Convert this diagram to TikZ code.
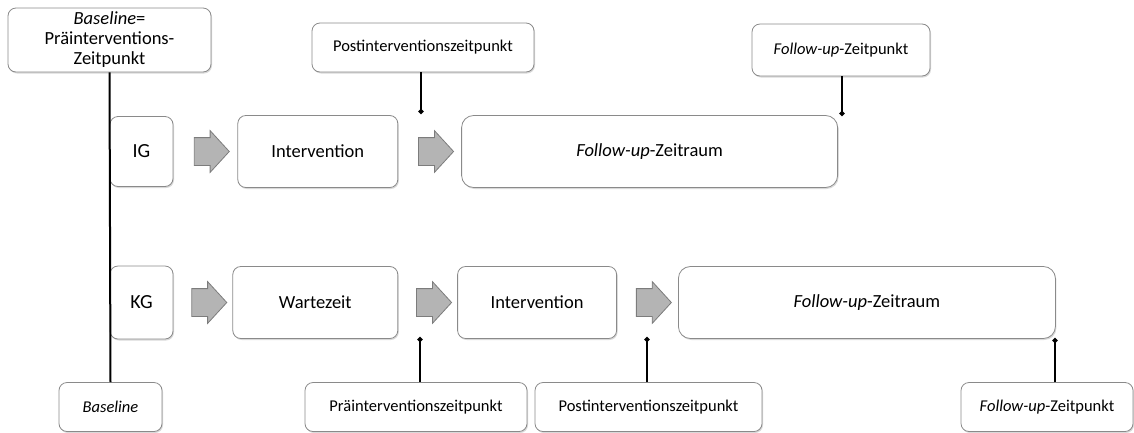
\documentclass[tikz,border=0pt]{standalone}
\usepackage{fontspec}
\setmainfont{Carlito}
\usetikzlibrary{positioning,shapes.arrows,shadows,arrows.meta,calc}
\definecolor{boxline}{HTML}{8A8A8A}
\definecolor{arrowfill}{HTML}{B4B4B4}
\definecolor{arrowline}{HTML}{7C7C7C}

\begin{document}
\begin{tikzpicture}[x=1pt, y=-1pt,
      pin/.style={-{Circle[length=5pt]}, line width=2pt, black},
      timeline/.style={line width=2pt, black},
      blockarrow/.style={single arrow, draw=arrowline, fill=arrowfill, line width=0.8pt,
        minimum height=35pt, single arrow head extend=7pt,
        single arrow tip angle=95, inner xsep=0pt, inner ysep=13.5pt}]
      % A box style
      \tikzstyle{box} = [draw=boxline, fill=white, line width=0.8pt, rounded corners=8pt,
        align=center, inner sep=2pt, font=\fontsize{18.5}{20}\selectfont,
        drop shadow={shadow xshift=1pt, shadow yshift=-1.5pt, opacity=0.3, fill=gray}]
      \tikzstyle{smallbox} = [box, minimum height=49pt, font=\fontsize{16.5}{19}\selectfont]
      \tikzstyle{longbox} = [box, rounded corners=12pt, minimum width=376pt, minimum height=72pt]
      \tikzstyle{stepbox} = [box, minimum width=160pt, minimum height=72pt]
      \tikzstyle{groupbox} = [box, minimum width=63pt, minimum height=70pt, font=\fontsize{20}{22}\selectfont]

      \useasboundingbox (0,0) rectangle (1134,432);

      % Measurement points on top
      \node (base) [box, minimum width=203pt, minimum height=64pt] at (109.5,40)
        {\textit{Baseline}=\\Pr\"ainterventions-\\Zeitpunkt};
      \node (postT) [smallbox, minimum width=222pt] at (423,47.5) {Postinterventionszeitpunkt};
      \node (fupT)  [smallbox, minimum width=178pt, minimum height=52pt] at (841,50) {\textit{Follow-up}-Zeitpunkt};

      % Intervention group
      \node (IG)    [groupbox] at (141.5,151.5) {IG};
      \node (intIG) [stepbox, right=64pt of IG] {Intervention};
      \node (fuIG)  [longbox, right=63pt of intIG] {\textit{Follow-up}-Zeitraum};

      % Waiting list group
      \node (KG)    [groupbox, minimum height=73pt] at (141.5,302.5) {KG};
      \node (wait)  [stepbox, minimum width=165pt, right=59pt of KG] {Wartezeit};
      \node (intKG) [stepbox, minimum width=159pt, right=59pt of wait] {Intervention};
      \node (fuKG)  [longbox, minimum width=377pt, right=61pt of intKG] {\textit{Follow-up}-Zeitraum};

      % Measurement points at the bottom
      \node (baseB) [smallbox, minimum width=103pt] at (110.5,407) {\textit{Baseline}};
      \node (preB)  [smallbox, minimum width=222pt] at (416,407) {Pr\"ainterventionszeitpunkt};
      \node (postB) [smallbox, minimum width=227pt] at (648.5,407) {Postinterventionszeitpunkt};
      \node (fupB)  [smallbox, minimum width=172pt] at (1047,407) {\textit{Follow-up}-Zeitpunkt};

      % Block arrows between the phases
      \node (a1) [blockarrow] at ($(IG.east)!0.5!(intIG.west)$) {};
      \node (a2) [blockarrow] at ($(intIG.east)!0.5!(fuIG.west)$) {};
      \node (a3) [blockarrow] at ($(KG.east)!0.5!(wait.west)$) {};
      \node (a4) [blockarrow] at ($(wait.east)!0.5!(intKG.west)$) {};
      \node (a5) [blockarrow] at ($(intKG.east)!0.5!(fuKG.west)$) {};

      % Time line
      \draw [timeline] (base.south) -- (baseB.north);

      % Ends of the pins
      \coordinate (c1) at (421,114);
      \coordinate (c2) at (842,116);
      \coordinate (c3) at (420,337);
      \coordinate (c4) at (647,337);
      \coordinate (c5) at (1055,338);

      \draw [pin] (c1 |- postT.south) -- (c1);
      \draw [pin] (c2 |- fupT.south) -- (c2);
      \draw [pin] (c3 |- preB.north) -- (c3);
      \draw [pin] (c4 |- postB.north) -- (c4);
      \draw [pin] (c5 |- fupB.north) -- (c5);
\end{tikzpicture}
\end{document}
